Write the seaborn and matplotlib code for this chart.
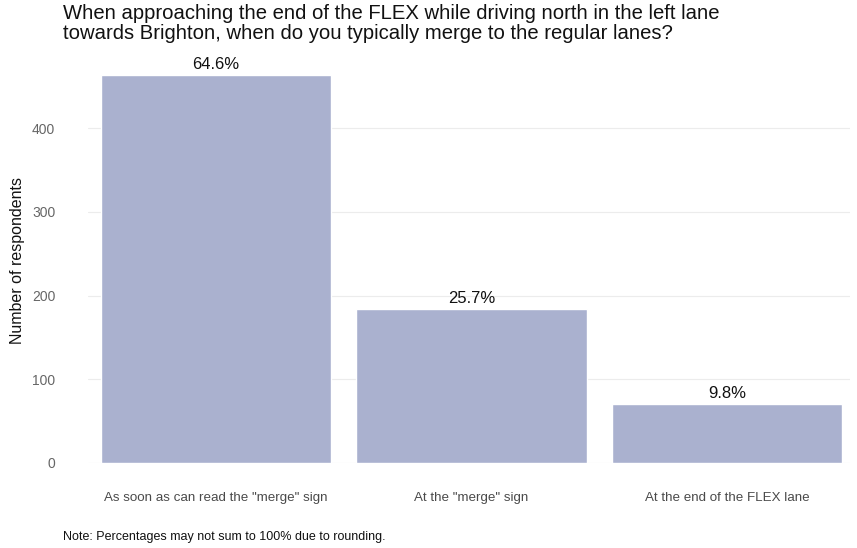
import pandas as pd
import matplotlib
matplotlib.use('Agg')
import matplotlib.pyplot as plt
import seaborn as sns

# Survey responses (counts)
categories = ['As soon as can read the "merge" sign', 'At the "merge" sign', 'At the end of the FLEX lane']
counts = [463, 184, 70]
pct_labels = ['64.6%', '25.7%', '9.8%']
y_ticks = [0, 100, 200, 300, 400]

df = pd.DataFrame({'answer': categories, 'n': counts})

sns.set_theme(style='whitegrid')
plt.rcParams['font.family'] = ['Liberation Sans', 'DejaVu Sans']

fig = plt.figure(figsize=(8.57, 5.48), dpi=100)
ax = fig.add_axes([88 / 857, 85 / 548, (850 - 88) / 857, 406 / 548])

sns.barplot(data=df, x='answer', y='n', color='#aab1cf', width=0.9,
            saturation=1, ax=ax)

# Percentage labels above bars
for i, (v, lab) in enumerate(zip(counts, pct_labels)):
    ax.text(i, v + 4, lab, ha='center', va='bottom', fontsize=12, color='#111111')

ax.set_xlim(-0.5, 2.48)
ax.set_ylim(0, 485)
ax.set_yticks(y_ticks)
ax.grid(axis='x', visible=False)
ax.grid(axis='y', color='#ececec', linewidth=0.8)
for s in ax.spines.values():
    s.set_visible(False)
ax.tick_params(axis='x', length=0, pad=21, labelsize=9.6, labelcolor='#4a4a4a')
ax.tick_params(axis='y', length=0, pad=23.5, labelsize=10, labelcolor='#666666')
ax.set_xlabel('')
ax.set_ylabel('Number of respondents', fontsize=11.5, color='#111111', labelpad=5)

fig.text(63 / 857, 1 - 4 / 548,
         'When approaching the end of the FLEX while driving north in the left lane\n'
         'towards Brighton, when do you typically merge to the regular lanes?',
         ha='left', va='top', fontsize=14.6, color='#111111', linespacing=1.05)
fig.text(63 / 857, 1 - 537 / 548, 'Note: Percentages may not sum to 100% due to rounding.',
         ha='left', va='center', fontsize=9, color='#111111')

fig.savefig('out.png', dpi=100)
